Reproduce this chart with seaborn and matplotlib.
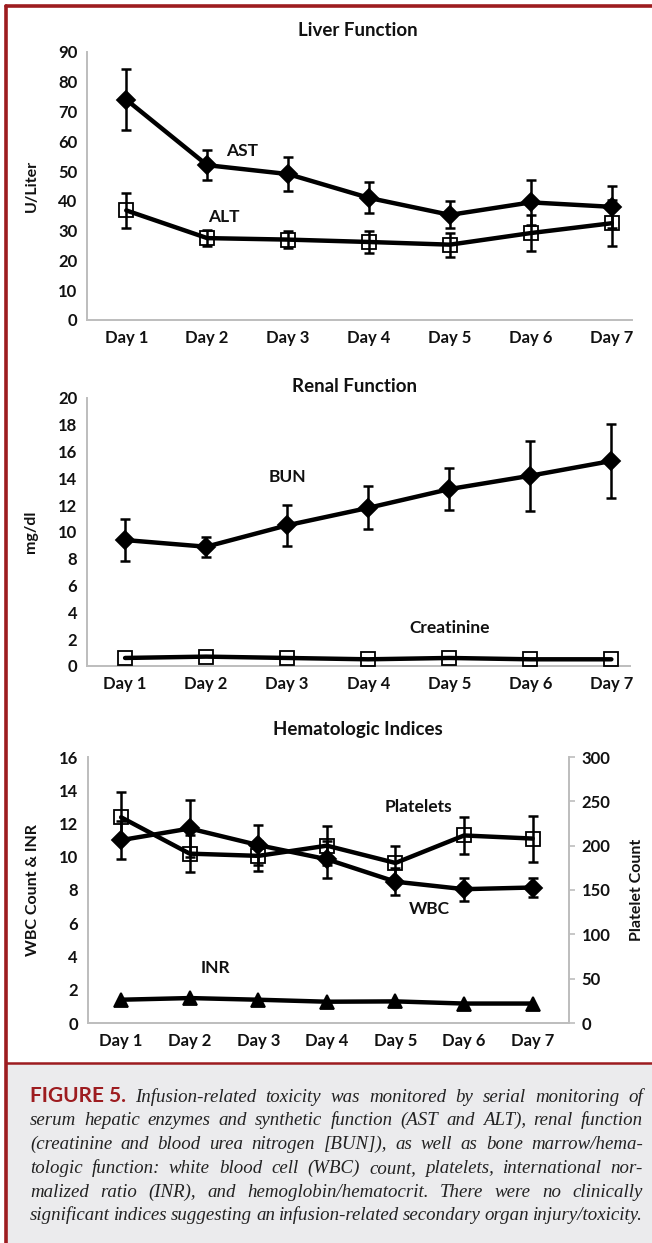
import numpy as np
import pandas as pd
import matplotlib
matplotlib.use("Agg")
import matplotlib.pyplot as plt
import seaborn as sns
from matplotlib.transforms import IdentityTransform
from matplotlib.lines import Line2D
from matplotlib.patches import Rectangle

# ---------------- data ----------------
days = ["Day 1", "Day 2", "Day 3", "Day 4", "Day 5", "Day 6", "Day 7"]

ast = [74.0, 52.0, 49.0, 41.0, 35.3, 39.5, 38.0]
ast_err = [10.3, 5.0, 5.6, 5.2, 4.5, 7.5, 7.0]
alt = [36.8, 27.5, 27.0, 26.2, 25.3, 29.2, 32.5]
alt_err = [6.0, 2.8, 2.8, 3.6, 4.0, 6.0, 7.8]

bun = [9.4, 8.9, 10.5, 11.8, 13.2, 14.2, 15.3]
bun_err = [1.6, 0.75, 1.55, 1.6, 1.55, 2.6, 2.75]
creat = [0.6, 0.7, 0.6, 0.5, 0.6, 0.5, 0.5]

wbc = [11.0, 11.7, 10.7, 9.85, 8.5, 8.05, 8.15]
wbc_err = [1.15, 1.7, 1.2, 1.1, 0.8, 0.7, 0.6]
platelets = [232.0, 191.0, 188.5, 200.0, 180.5, 211.5, 208.0]
platelets_err = [28.0, 21.0, 17.0, 22.0, 19.0, 20.5, 26.0]
inr = [1.4, 1.5, 1.4, 1.28, 1.3, 1.17, 1.17]

liver_ticks = list(range(0, 91, 10))
renal_ticks = list(range(0, 21, 2))
hema_ticks = list(range(0, 17, 2))
plt_ticks = list(range(0, 301, 50))

caption_lines = [
    [("FIGURE 5.", "head")] + [(w, "body") for w in "Infusion-related toxicity was monitored by serial monitoring of".split()],
    [(w, "body") for w in "serum hepatic enzymes and synthetic function (AST and ALT), renal function".split()],
    [(w, "body") for w in "(creatinine and blood urea nitrogen [BUN]), as well as bone marrow/hema-".split()],
    [(w, "body") for w in "tologic function: white blood cell (WBC) count, platelets, international nor-".split()],
    [(w, "body") for w in "malized ratio (INR), and hemoglobin/hematocrit. There were no clinically".split()],
    [(w, "body") for w in "significant indices suggesting an infusion-related secondary organ injury/toxicity.".split()],
]

# ---------------- style ----------------
sns.set_style("white")
plt.rcParams["font.family"] = ["Lato", "DejaVu Sans"]

W, H = 652, 1243
DPI = 100
fig = plt.figure(figsize=(W / DPI, H / DPI), dpi=DPI)
fig.patch.set_facecolor("white")

RED = "#9d1c20"
SPINE = "#bdbdbd"
TXT = "#111111"
TICK_FS = 12
LAB_FS = 12.5


def px_axes(left, top, right, bottom):
    return fig.add_axes([left / W, 1 - bottom / H, (right - left) / W, (bottom - top) / H])


def style_axes(ax, ticks, xlim):
    ax.set_xlim(*xlim)
    ax.set_ylim(ticks[0], ticks[-1])
    ax.set_yticks(ticks)
    ax.set_xlabel("")
    ax.set_ylabel("")
    for s in ["top", "right"]:
        ax.spines[s].set_visible(False)
    for s in ["left", "bottom"]:
        ax.spines[s].set_color(SPINE)
        ax.spines[s].set_linewidth(1.4)
    ax.tick_params(axis="both", length=0, labelsize=TICK_FS, colors=TXT)
    ax.tick_params(axis="y", pad=7)
    ax.tick_params(axis="x", pad=7)
    for lab in ax.get_xticklabels() + ax.get_yticklabels():
        lab.set_fontweight("bold")
    ax.patch.set_alpha(0)


def series(ax, y, err, marker, filled, ms):
    df = pd.DataFrame({"Day": days, "val": y})
    sns.lineplot(data=df, x="Day", y="val", ax=ax, color="black", lw=3.2,
                 marker=marker, markersize=ms,
                 markerfacecolor="black" if filled else "none",
                 markeredgecolor="black", markeredgewidth=1.3,
                 sort=False, zorder=3)
    if err is not None:
        ax.errorbar(days, y, yerr=err, fmt="none", ecolor="black",
                    elinewidth=1.8, capsize=3.5, capthick=1.8, zorder=4)


def ftext(x, y, s, **kw):
    fig.text(x / W, 1 - y / H, s, **kw)


# ---------------- Liver ----------------
ax1 = px_axes(87, 52, 632, 320)
series(ax1, ast, ast_err, "D", True, 9.5)
series(ax1, alt, alt_err, "s", False, 10)
style_axes(ax1, liver_ticks, (-0.485, 6.25))
ax1.text(1.43, 56.7, "AST", fontsize=LAB_FS, fontweight="bold", ha="center", va="center", color=TXT)
ax1.text(1.21, 34.6, "ALT", fontsize=LAB_FS, fontweight="bold", ha="center", va="center", color=TXT)
ftext(358, 31, "Liver Function", fontsize=13.5, fontweight="bold", ha="center", va="center", color=TXT)
ftext(32, 186, "U/Liter", fontsize=11.5, fontweight="bold", rotation=90, ha="center", va="center", color=TXT)

# ---------------- Renal ----------------
ax2 = px_axes(87, 398, 630, 666)
series(ax2, bun, bun_err, "D", True, 9.5)
series(ax2, creat, None, "s", False, 10)
style_axes(ax2, renal_ticks, (-0.47, 6.23))
ax2.text(2.0, 14.1, "BUN", fontsize=LAB_FS, fontweight="bold", ha="center", va="center", color=TXT)
ax2.text(4.0, 2.8, "Creatinine", fontsize=LAB_FS, fontweight="bold", ha="center", va="center", color=TXT)
ftext(354, 387, "Renal Function", fontsize=13.5, fontweight="bold", ha="center", va="center", color=TXT)
ftext(31, 532, "mg/dl", fontsize=11.5, fontweight="bold", rotation=90, ha="center", va="center", color=TXT)

# ---------------- Hematologic ----------------
ax3 = px_axes(87.5, 757, 569, 1023)
series(ax3, wbc, wbc_err, "D", True, 9.5)
series(ax3, inr, None, "^", True, 10)
style_axes(ax3, hema_ticks, (-0.49, 6.53))
ax3b = ax3.twinx()
series(ax3b, platelets, platelets_err, "s", False, 10)
ax3b.set_ylim(plt_ticks[0], plt_ticks[-1])
ax3b.set_yticks(plt_ticks)
ax3b.set_ylabel("")
ax3b.set_xlim(-0.49, 6.53)
for s in ["top", "left", "bottom"]:
    ax3b.spines[s].set_visible(False)
ax3b.spines["right"].set_color(SPINE)
ax3b.spines["right"].set_linewidth(1.4)
ax3b.tick_params(axis="y", length=4, width=1.2, color=SPINE, labelsize=TICK_FS, pad=5, labelcolor=TXT)
for lab in ax3b.get_yticklabels():
    lab.set_fontweight("bold")
ax3.text(4.33, 13.0, "Platelets", fontsize=LAB_FS, fontweight="bold", ha="center", va="center", color=TXT)
ax3.text(4.5, 6.87, "WBC", fontsize=LAB_FS, fontweight="bold", ha="center", va="center", color=TXT)
ax3.text(1.37, 3.3, "INR", fontsize=LAB_FS, fontweight="bold", ha="center", va="center", color=TXT)
ftext(358, 730, "Hematologic Indices", fontsize=13.5, fontweight="bold", ha="center", va="center", color=TXT)
ftext(33, 890, "WBC Count & INR", fontsize=11.5, fontweight="bold", rotation=90, ha="center", va="center", color=TXT)
ftext(637, 890, "Platelet Count", fontsize=11.5, fontweight="bold", rotation=90, ha="center", va="center", color=TXT)

# ---------------- frame & caption box ----------------
fig.patches.append(Rectangle((6 / W, 0), 1, (H - 1064) / H, transform=fig.transFigure,
                             facecolor="#ebebed", edgecolor="none", zorder=0))
fig.lines.append(Line2D([6 / W, 1], [1 - 6 / H, 1 - 6 / H], transform=fig.transFigure, color=RED, lw=2.6))
fig.lines.append(Line2D([6 / W, 6 / W], [0, 1 - 6 / H], transform=fig.transFigure, color=RED, lw=2.6))
fig.lines.append(Line2D([6 / W, 1], [1 - 1063 / H, 1 - 1063 / H], transform=fig.transFigure, color=RED, lw=1.8))

# justified caption
renderer = fig.canvas.get_renderer()
styles = {
    "head": dict(fontsize=15, fontweight="bold", color=RED, family=["Lato", "DejaVu Sans"]),
    "body": dict(fontsize=13.6, style="italic", color="#222222", family=["Liberation Serif", "DejaVu Serif"]),
}
x_left, x_right = 30, 643
line_y = [1097, 1120, 1144, 1168, 1192, 1215]
for tokens, ly in zip(caption_lines, line_y):
    objs = []
    widths = []
    for word, st in tokens:
        t = fig.text(0, 0, word, transform=IdentityTransform(), va="baseline", ha="left", **styles[st])
        bb = t.get_window_extent(renderer=renderer)
        objs.append(t)
        widths.append(bb.width)
    gap = (x_right - x_left - sum(widths)) / (len(objs) - 1)
    x = x_left
    base = H - ly - 5
    for t, w in zip(objs, widths):
        t.set_position((x, base))
        x += w + gap

fig.savefig("out.png", dpi=DPI)
